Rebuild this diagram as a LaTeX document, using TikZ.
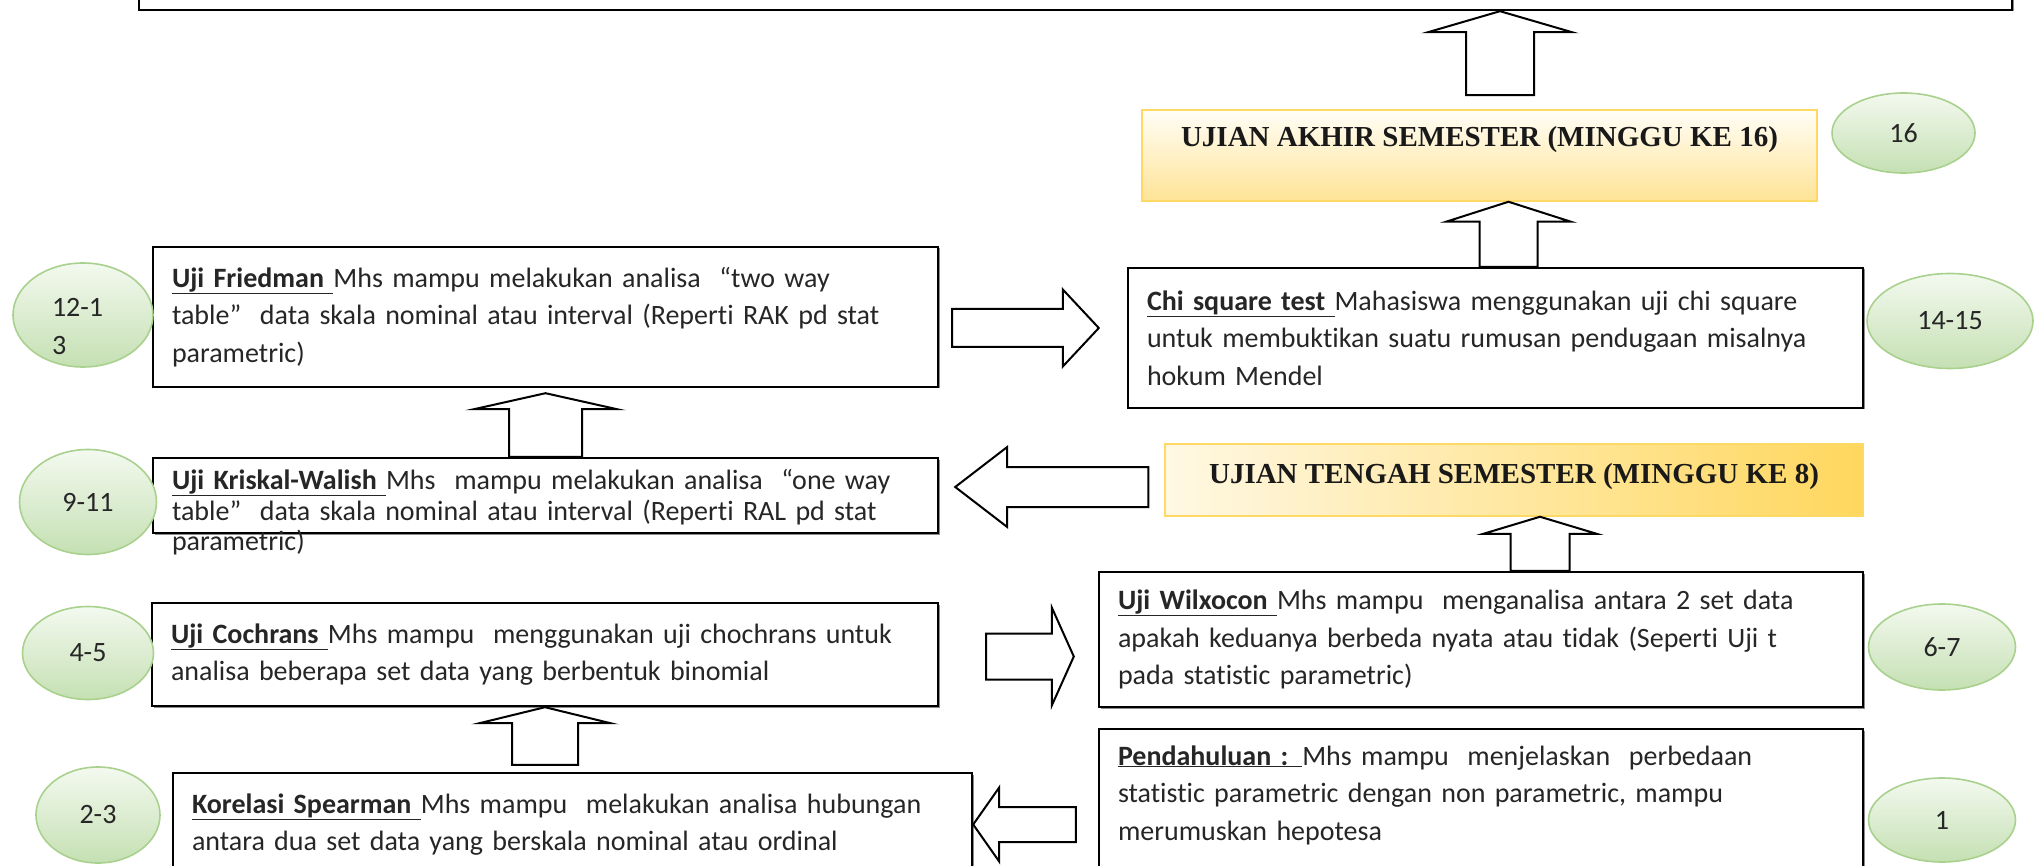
\documentclass[tikz,border=0pt]{standalone}
\usepackage{fontspec}
\setmainfont{Carlito}[Ligatures=NoCommon]
\newfontfamily\hdrserif{Liberation Serif}
\usetikzlibrary{calc,shapes.geometric,shadows}
\definecolor{examgold}{HTML}{FFD966}
\definecolor{uastop}{HTML}{FFFDF6}
\definecolor{uasbot}{HTML}{FFE497}
\definecolor{utsleft}{HTML}{FFF8E3}
\definecolor{utsright}{HTML}{FFD75E}
\definecolor{weekedge}{HTML}{A9D18E}
\definecolor{weektop}{HTML}{F3F9EF}
\definecolor{weekbot}{HTML}{C5E0B3}
\newcommand{\desc}{\fontsize{28}{37.5}\selectfont}
\newcommand{\desctight}{\fontsize{28}{31}\selectfont}
\newcommand{\hdrfont}{\hdrserif\bfseries\fontsize{29}{34}\selectfont}
\newcommand{\hd}[1]{\underline{\textbf{#1}}}
% block arrow: source, tip, half shaft, half head, head length
\newcommand{\blockarrow}[5]{%
  \coordinate (ba-h) at ($(#2)!#5!(#1)$);
  \draw[blockarr] ($(#1)!#3!90:(#2)$) -- ($(ba-h)!#3!90:(#2)$)
    -- ($(ba-h)!#4!90:(#2)$) -- (#2) -- ($(ba-h)!#4!-90:(#2)$)
    -- ($(ba-h)!#3!-90:(#2)$) -- ($(#1)!#3!-90:(#2)$) -- cycle;}
\tikzset{
  descbox/.style={draw=black, line width=2.4pt, fill=white, align=left,
    inner xsep=19pt, inner ysep=0pt, font=\desc, text=black!85,
    drop shadow={shadow xshift=1.5pt, shadow yshift=-1.5pt, fill=black!45, opacity=1}},
  examhdr/.style={draw=examgold, line width=1.5pt, inner sep=0pt, font=\hdrfont,
    align=center, text=black!90},
  weekcirc/.style={ellipse, draw=weekedge, line width=1.6pt, top color=weektop,
    bottom color=weekbot, inner sep=0pt, font=\desc, text=black!85},
  blockarr/.style={draw=black, line width=2pt, fill=white, line join=miter},
}
\begin{document}
\begin{tikzpicture}[x=1pt, y=-1pt]
  \useasboundingbox (0,0) rectangle (2035,866);

  % boxes
  \node[descbox, minimum width=1873pt, minimum height=80pt] (goal) at (1075.5,-30) {};
  \node[examhdr, top color=uastop, bottom color=uasbot, minimum width=675pt,
    text height=37pt, text depth=54pt] (uas) at (1479.5,155.5)
    {UJIAN AKHIR SEMESTER (MINGGU KE 16)};
  \node[descbox, text width=697pt, minimum height=140pt] (chi) at (1495.5,338)
    {\hd{Chi square test }Mahasiswa menggunakan uji chi square\\
     untuk membuktikan suatu rumusan pendugaan misalnya\\
     hokum Mendel};
  \node[examhdr, left color=utsleft, right color=utsright, minimum width=698pt,
    text height=39pt, text depth=33pt] (uts) at (1514,480)
    {UJIAN TENGAH SEMESTER (MINGGU KE 8)};
  \node[descbox, text width=726pt, minimum height=135pt] (wilx) at (1481,639.5)
    {\hd{Uji Wilxocon }Mhs mampu~ menganalisa antara 2 set data\\
     apakah keduanya berbeda nyata atau tidak (Seperti Uji t\\
     pada statistic parametric)};
  \node[descbox, text width=726pt, text height=36pt, text depth=115pt] (pend) at (1481,804.5)
    {\hd{Pendahuluan : }Mhs mampu~ menjelaskan~ perbedaan\\
     statistic parametric dengan non parametric, mampu\\
     merumuskan hepotesa};
  \node[descbox, text width=747pt, minimum height=140pt] (fried) at (545.5,317)
    {\hd{Uji Friedman }Mhs mampu melakukan analisa~ “two way\\
     table”~ data skala nominal atau interval (Reperti RAK pd stat\\
     parametric)};
  \node[descbox, font=\desctight, text width=747pt, text height=31pt, text depth=44pt]
    (kris) at (545.5,495.5)
    {\hd{Uji Kriskal-Walish }Mhs~ mampu melakukan analisa~ “one way\\
     table”~ data skala nominal atau interval (Reperti RAL pd stat\\
     parametric)};
  \node[descbox, text width=748pt, minimum height=103pt] (coch) at (545,654.5)
    {\hd{Uji Cochrans }Mhs mampu~ menggunakan uji chochrans untuk\\
     analisa beberapa set data yang berbentuk binomial};
  \node[descbox, text width=761pt, minimum height=103pt] (spear) at (572.5,824.5)
    {\hd{Korelasi Spearman }Mhs mampu~ melakukan analisa hubungan\\
     antara dua set data yang berskala nominal atau ordinal};

  % week ovals
  \node[weekcirc, minimum width=143pt, minimum height=80pt] (w16) at (1903.5,133) {16};
  \node[weekcirc, minimum width=166pt, minimum height=95pt] (w1415) at (1950,321) {14-15};
  \node[weekcirc, minimum width=140pt, minimum height=104pt, align=left, text width=62pt,
    text height=20pt, text depth=16pt] (w1213) at (83,315) {12-1\\3};
  \node[weekcirc, minimum width=137pt, minimum height=105pt] (w911) at (88,502) {9-11};
  \node[weekcirc, minimum width=131pt, minimum height=93pt] (w45) at (88,653) {4-5};
  \node[weekcirc, minimum width=124pt, minimum height=96pt] (w23) at (98,815) {2-3};
  \node[weekcirc, minimum width=147pt, minimum height=86pt] (w67) at (1942,647) {6-7};
  \node[weekcirc, minimum width=147pt, minimum height=84pt] (w1) at (1942,820) {1};

  % block arrows
  \coordinate (a1s) at ($(pend.west |- spear.east)+(-22,0)$);
  \blockarrow{a1s}{spear.east}{17.5pt}{37pt}{26pt}
  \coordinate (a2s) at ($(spear.north -| coch.south)+(0,-7)$);
  \blockarrow{a2s}{coch.south}{33pt}{65.5pt}{16pt}
  \coordinate (a3s) at ($(coch.east)+(47,2)$);
  \coordinate (a3t) at ($(wilx.west |- a3s)+(-24,0)$);
  \blockarrow{a3s}{a3t}{23pt}{49pt}{22pt}
  \coordinate (a4s) at ($(wilx.north)+(59,0)$);
  \coordinate (a4t) at ($(uts.south)+(26,0)$);
  \blockarrow{a4s}{a4t}{29.5pt}{56.5pt}{17pt}
  \coordinate (a5s) at ($(uts.west)+(-16,7)$);
  \coordinate (a5t) at ($(kris.east |- a5s)+(16,0)$);
  \blockarrow{a5s}{a5t}{20pt}{40pt}{52pt}
  \coordinate (a6t) at ($(fried.south)+(0,5)$);
  \blockarrow{kris.north}{a6t}{36.5pt}{71.5pt}{16pt}
  \coordinate (a7s) at ($(fried.east)+(13,11)$);
  \coordinate (a7t) at ($(chi.west |- a7s)+(-28,0)$);
  \blockarrow{a7s}{a7t}{19pt}{38.5pt}{36pt}
  \coordinate (a8s) at ($(chi.north)+(13,0)$);
  \coordinate (a8t) at (uas.south -| a8s);
  \blockarrow{a8s}{a8t}{29pt}{62.5pt}{20pt}
  \coordinate (a9s) at ($(uas.north)+(20.5,-14)$);
  \coordinate (a9t) at (goal.south -| a9s);
  \blockarrow{a9s}{a9t}{34pt}{72pt}{21pt}
\end{tikzpicture}
\end{document}
